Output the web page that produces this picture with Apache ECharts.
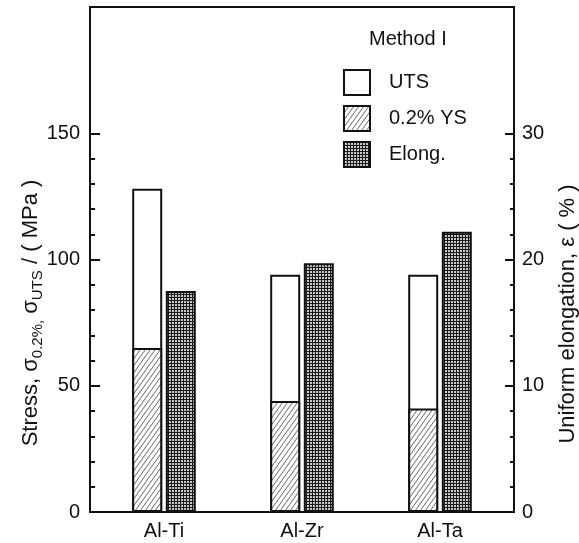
<!DOCTYPE html>
<html>
<head>
<meta charset="utf-8">
<script src="https://cdn.jsdelivr.net/npm/echarts@6/dist/echarts.min.js"></script>
<style>
  html, body { margin: 0; padding: 0; background: #fff; }
  #chart { width: 579px; height: 543px; }
</style>
</head>
<body>
<div id="chart"></div>
<script>
// Tensile properties of Al alloys (Method I)
const categories = ['Al-Ti', 'Al-Zr', 'Al-Ta'];
const utsValues = [128, 94, 94];        // UTS, MPa
const ysValues = [65, 44, 41];          // 0.2% YS, MPa
const elongValues = [17.5, 19.7, 22.2]; // uniform elongation, %

const stressTicks = [0, 50, 100, 150];
const stressMinorTicks = [10, 20, 30, 40, 60, 70, 80, 90, 110, 120, 130, 140];
const elongTicks = [0, 10, 20, 30];
const elongMinorTicks = [2, 4, 6, 8, 12, 14, 16, 18, 22, 24, 26, 28];

const FONT = '"Liberation Sans", Arial, Helvetica, sans-serif';
const INK = '#111';

// Diagonal hatch fill for the yield-strength bars
function hatchTile() {
  const c = document.createElement('canvas');
  c.width = 5; c.height = 7;
  const g = c.getContext('2d');
  g.fillStyle = '#fff';
  g.fillRect(0, 0, 5, 7);
  g.strokeStyle = '#555';
  g.lineWidth = 0.9;
  g.beginPath();
  for (let k = -1; k <= 1; k++) {
    g.moveTo(k * 5, 7);
    g.lineTo(k * 5 + 5, 0);
  }
  g.stroke();
  return c;
}

// Dense cross-grid fill for the elongation bars
function gridTile() {
  const c = document.createElement('canvas');
  c.width = 3; c.height = 3;
  const g = c.getContext('2d');
  g.fillStyle = '#c8c8c8';
  g.fillRect(0, 0, 3, 3);
  g.fillStyle = '#1a1a1a';
  g.fillRect(0, 0, 3, 1);
  g.fillRect(0, 0, 1, 3);
  return c;
}

const hatchFill = { image: hatchTile(), repeat: 'repeat' };
const gridFill = { image: gridTile(), repeat: 'repeat' };

const tickAxisBase = {
  gridIndex: 1,
  type: 'value',
  splitLine: { show: false },
  axisLine: { show: false }
};

const chart = echarts.init(document.getElementById('chart'), null, { renderer: 'canvas' });

chart.setOption({
  animation: false,
  backgroundColor: '#fff',
  textStyle: { fontFamily: FONT },
  title: {
    text: 'Method I',
    left: 369,
    top: 29,
    padding: 0,
    textStyle: { fontSize: 20, fontWeight: 'normal', color: INK, fontFamily: FONT }
  },
  legend: {
    data: ['UTS', '0.2% YS', 'Elong.'],
    orient: 'vertical',
    left: 343,
    top: 69,
    padding: 0,
    itemWidth: 26,
    itemHeight: 25,
    itemGap: 9,
    icon: 'rect',
    selectedMode: false,
    textStyle: { fontSize: 20, color: INK, fontFamily: FONT, padding: [4, 0, 0, 14] }
  },
  grid: [
    { left: 95, right: 70, top: 7, bottom: 31 },
    { left: 90, right: 65, top: 7, bottom: 31, show: true,
      borderColor: INK, borderWidth: 2, backgroundColor: 'transparent' }
  ],
  xAxis: [
    {
      gridIndex: 0, type: 'category', data: categories,
      axisLine: { show: false }, axisTick: { show: false },
      axisLabel: { fontSize: 20, color: INK, margin: 9, fontFamily: FONT }
    },
    { gridIndex: 0, type: 'category', data: categories, show: false },
    { gridIndex: 1, type: 'value', min: 0, max: 1, show: false }
  ],
  yAxis: [
    { gridIndex: 0, type: 'value', min: 0, max: 200, show: false },
    { gridIndex: 0, type: 'value', min: 0, max: 40, show: false, position: 'right' },
    Object.assign({}, tickAxisBase, {
      position: 'left', min: 0, max: 200,
      axisTick: { inside: true, length: 10, customValues: stressTicks,
                  lineStyle: { color: INK, width: 2 } },
      axisLabel: { customValues: stressTicks, fontSize: 20, color: INK, margin: 10, fontFamily: FONT }
    }),
    Object.assign({}, tickAxisBase, {
      position: 'left', min: 0, max: 200,
      axisTick: { inside: true, length: 5, customValues: stressMinorTicks,
                  lineStyle: { color: INK, width: 2 } },
      axisLabel: { show: false }
    }),
    Object.assign({}, tickAxisBase, {
      position: 'right', min: 0, max: 40,
      axisTick: { inside: true, length: 9, customValues: elongTicks,
                  lineStyle: { color: INK, width: 2 } },
      axisLabel: { customValues: elongTicks, fontSize: 20, color: INK, margin: 8, fontFamily: FONT }
    }),
    Object.assign({}, tickAxisBase, {
      position: 'right', min: 0, max: 40,
      axisTick: { inside: true, length: 4, customValues: elongMinorTicks,
                  lineStyle: { color: INK, width: 2 } },
      axisLabel: { show: false }
    })
  ],
  series: [
    {
      name: 'UTS', type: 'bar', xAxisIndex: 0, yAxisIndex: 0,
      data: utsValues, barWidth: 30, barGap: '12%',
      itemStyle: { color: '#fff', borderColor: INK, borderWidth: 2 }
    },
    {
      name: 'Elong.', type: 'bar', xAxisIndex: 0, yAxisIndex: 1,
      data: elongValues, barWidth: 30, barGap: '12%',
      itemStyle: { color: gridFill, borderColor: INK, borderWidth: 2 }
    },
    {
      name: '0.2% YS', type: 'bar', xAxisIndex: 1, yAxisIndex: 0,
      data: ysValues, barWidth: 30, barGap: '12%',
      itemStyle: { color: hatchFill, borderColor: INK, borderWidth: 2 }
    },
    {
      // keeps the second slot free so YS sits over the UTS bar
      name: 'slot', type: 'bar', xAxisIndex: 1, yAxisIndex: 0,
      data: ['-', '-', '-'], barWidth: 30, barGap: '12%',
      itemStyle: { color: 'transparent' }
    }
  ],
  graphic: [
    {
      type: 'text',
      x: 31, y: 313,
      rotation: Math.PI / 2,
      style: {
        text: '{a|Stress, σ}{s|0.2%,}{a| σ}{s|UTS}{a| / ( MPa )}',
        align: 'center',
        verticalAlign: 'middle',
        rich: {
          a: { fontSize: 22, fontFamily: FONT, fill: INK, lineHeight: 28, verticalAlign: 'middle' },
          s: { fontSize: 15, fontFamily: FONT, fill: INK, lineHeight: 15, verticalAlign: 'bottom' }
        }
      }
    },
    {
      type: 'text',
      x: 568, y: 314,
      rotation: Math.PI / 2,
      style: {
        text: 'Uniform elongation, ε ( % )',
        align: 'center',
        verticalAlign: 'middle',
        fontSize: 22,
        fontFamily: FONT,
        fill: INK
      }
    }
  ]
});
</script>
</body>
</html>
